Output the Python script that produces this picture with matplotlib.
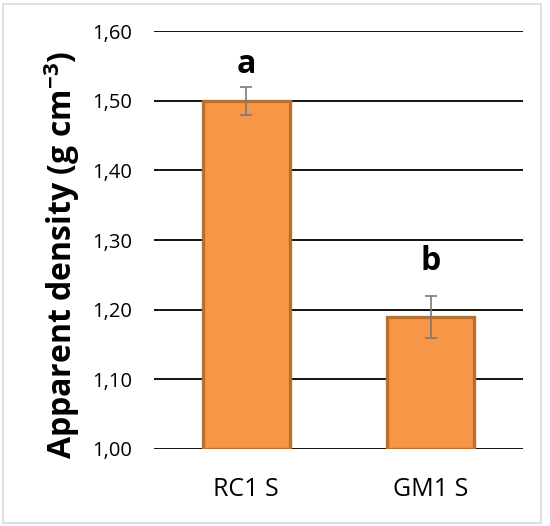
import matplotlib
matplotlib.use("Agg")
import matplotlib.pyplot as plt
from matplotlib.patches import Rectangle

categories = ["RC1 S", "GM1 S"]
density = [1.50, 1.19]
density_err = [0.02, 0.03]
letters = ["a", "b"]
yticks = [1.00, 1.10, 1.20, 1.30, 1.40, 1.50, 1.60]

# gap (in points) between each error-bar cap and its significance letter
letter_gap_pt = [4.5, 13]

plt.rcParams["font.family"] = ["Open Sans", "DejaVu Sans"]
plt.rcParams["mathtext.fontset"] = "custom"
plt.rcParams["mathtext.rm"] = "Open Sans"
plt.rcParams["mathtext.bf"] = "Open Sans:bold"

fig = plt.figure(figsize=(5.5, 5.26), dpi=100)
ax = fig.add_axes([0.28, 0.1464, 0.671, 0.7946])

# light frame around the whole chart
fig.patches.append(Rectangle((0.006, 0.006), 0.978, 0.986, transform=fig.transFigure,
                             fill=False, edgecolor="#d9d9d9", linewidth=1.2))

x = list(range(len(categories)))
ax.bar(x, [d - 1.0 for d in density], bottom=1.0, width=0.47,
       color="#F79646", edgecolor="#B8702F", linewidth=2.4, zorder=3)
ax.errorbar(x, density, yerr=density_err, fmt="none", ecolor="#7a7a7a",
            elinewidth=1.2, capsize=4.5, capthick=1.2, zorder=4)

for xi, d, e, lab, gap in zip(x, density, density_err, letters, letter_gap_pt):
    ax.annotate(lab, xy=(xi, d + e), xytext=(0, gap), textcoords="offset points",
                ha="center", va="bottom", fontsize=23, fontweight="bold", zorder=5)

ax.set_xlim(-0.5, 1.5)
ax.set_ylim(1.0, 1.6)
ax.set_yticks(yticks)
ax.set_yticklabels([f"{t:.2f}".replace(".", ",") for t in yticks], fontsize=14.5)
ax.set_xticks(x)
ax.set_xticklabels(categories, fontsize=18)
ax.tick_params(axis="both", length=0)
ax.tick_params(axis="y", pad=16)
ax.tick_params(axis="x", pad=20)
ax.grid(axis="y", color="black", linewidth=1.3, zorder=0)
ax.set_axisbelow(True)
for s in ax.spines.values():
    s.set_visible(False)

ax.set_ylabel(r"Apparent density (g cm$^{\mathbf{-3}}$)", fontsize=23,
              fontweight="bold")
ax.yaxis.set_label_coords(-0.195, 0.465)

fig.savefig("out.png", dpi=100)
